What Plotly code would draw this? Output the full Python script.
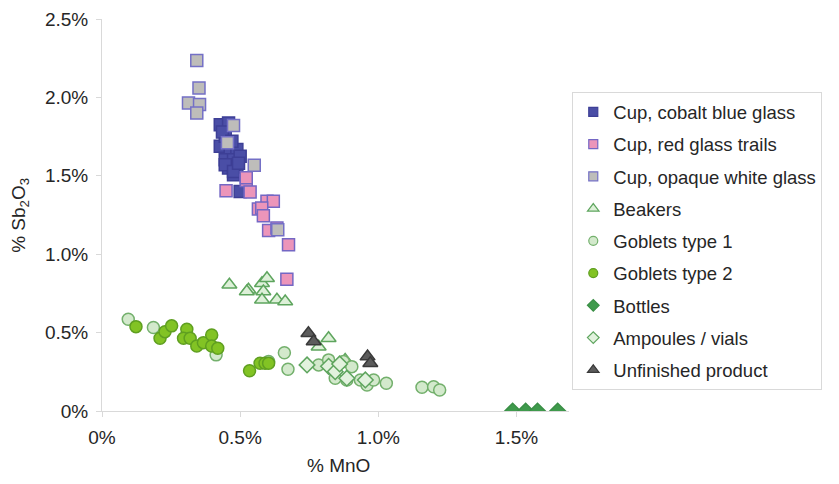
import plotly.graph_objects as go

# % MnO (x) and % Sb2O3 (y) for each group of glass finds
cobalt_x = [0.428, 0.458, 0.428, 0.446, 0.464, 0.488, 0.446, 0.476, 0.500, 0.458, 0.488, 0.476,
            0.446, 0.476, 0.500, 0.436, 0.470, 0.494]
cobalt_y = [1.826, 1.837, 1.688, 1.752, 1.667, 1.667, 1.603, 1.603, 1.624, 1.550, 1.539, 1.507,
            1.571, 1.528, 1.400, 1.780, 1.720, 1.580]

red_x = [0.522, 0.449, 0.536, 0.597, 0.620, 0.566, 0.578, 0.584, 0.603, 0.633, 0.675, 0.669, 0.522]
red_y = [1.470, 1.405, 1.397, 1.337, 1.337, 1.288, 1.294, 1.245, 1.151, 1.167, 1.060, 0.841, 1.488]

white_x = [0.343, 0.351, 0.313, 0.353, 0.343, 0.476, 0.454, 0.551, 0.636]
white_y = [2.235, 2.060, 1.965, 1.954, 1.900, 1.820, 1.710, 1.567, 1.156]

beaker_x = [0.461, 0.530, 0.579, 0.597, 0.584, 0.579, 0.633, 0.663, 0.524, 0.820, 0.784, 0.880]
beaker_y = [0.805, 0.773, 0.815, 0.847, 0.762, 0.709, 0.709, 0.698, 0.762, 0.464, 0.410, 0.326]

goblet1_x = [0.095, 0.186, 0.413, 0.660, 0.673, 0.603, 0.784, 0.820, 0.838, 0.874, 0.904, 0.844,
             0.886, 0.935, 0.959, 0.983, 1.029, 1.158, 1.200, 1.222]
goblet1_y = [0.585, 0.532, 0.358, 0.372, 0.266, 0.315, 0.294, 0.326, 0.273, 0.315, 0.283, 0.209,
             0.198, 0.198, 0.166, 0.198, 0.177, 0.151, 0.155, 0.134]

goblet2_x = [0.123, 0.210, 0.228, 0.252, 0.307, 0.295, 0.319, 0.343, 0.367, 0.397, 0.397, 0.419,
             0.534, 0.572, 0.590, 0.603]
goblet2_y = [0.538, 0.464, 0.506, 0.543, 0.522, 0.464, 0.464, 0.415, 0.436, 0.485, 0.415, 0.400,
             0.257, 0.304, 0.304, 0.304]

bottle_x = [1.486, 1.533, 1.576, 1.649]
bottle_y = [0.0, 0.0, 0.0, 0.0]

ampoule_x = [0.742, 0.820, 0.844, 0.886, 0.953, 0.860]
ampoule_y = [0.294, 0.285, 0.251, 0.209, 0.198, 0.300]

unfinished_x = [0.747, 0.766, 0.961, 0.971]
unfinished_y = [0.496, 0.443, 0.347, 0.304]

x_ticks = [0, 0.5, 1.0, 1.5]
x_labels = ["0%", "0.5%", "1.0%", "1.5%"]
y_ticks = [0, 0.5, 1.0, 1.5, 2.0, 2.5]
y_labels = ["0%", "0.5%", "1.0%", "1.5%", "2.0%", "2.5%"]

FONT = "Liberation Sans, Arial, sans-serif"
AXIS = "#D9D9D9"
TEXT = "#262626"

series = [
    ("Cup, cobalt blue glass", cobalt_x, cobalt_y, "square", 12, "#4A4EA6", "#3D3F96"),
    ("Cup, red glass trails", red_x, red_y, "square", 12, "#EC95BA", "#7467C4"),
    ("Cup, opaque white glass", white_x, white_y, "square", 12, "#BEBDBA", "#7470C6"),
    ("Beakers", beaker_x, beaker_y, "triangle-up", 13, "#DDF0D8", "#5EA55E"),
    ("Goblets type 1", goblet1_x, goblet1_y, "circle", 12, "#D3E9CC", "#73B06C"),
    ("Goblets type 2", goblet2_x, goblet2_y, "circle", 12, "#82C324", "#5F9F20"),
    ("Bottles", bottle_x, bottle_y, "diamond", 12, "#3F9A4C", "#3A8F46"),
    ("Ampoules / vials", ampoule_x, ampoule_y, "diamond", 12, "#E2F2DE", "#5EA55E"),
    ("Unfinished product", unfinished_x, unfinished_y, "triangle-up", 13, "#5C5C5C", "#3A3A3A"),
]

fig = go.Figure()
for name, xs, ys, sym, size, fill, line in series:
    fig.add_trace(go.Scatter(
        x=xs, y=ys, mode="markers", name=name, legendgroup=name, showlegend=False,
        marker=dict(symbol=sym, size=size, color=fill, line=dict(color=line, width=1.5)),
    ))
# smaller key symbols for the legend
for name, xs, ys, sym, size, fill, line in series:
    fig.add_trace(go.Scatter(
        x=[None], y=[None], mode="markers", name=name, legendgroup=name, showlegend=True,
        marker=dict(symbol=sym, size=size - 3, color=fill, line=dict(color=line, width=1.2)),
    ))

fig.update_layout(
    width=839, height=484,
    margin=dict(l=102, r=270, t=19, b=73, autoexpand=False),
    paper_bgcolor="white", plot_bgcolor="white",
    font=dict(family=FONT, size=19, color=TEXT),
    showlegend=True,
    legend=dict(
        x=1.007, y=0.813, xanchor="left", yanchor="top",
        bgcolor="white", bordercolor="#D9D9D9", borderwidth=1,
        font=dict(family=FONT, size=18.5, color=TEXT),
        tracegroupgap=5.2, itemwidth=30,
    ),
    xaxis=dict(
        range=[0, 1.69], tickvals=x_ticks, ticktext=x_labels, automargin=False,
        showgrid=False, zeroline=False, showline=True, linecolor=AXIS, linewidth=1,
        ticks="outside", ticklen=5, tickcolor=AXIS, ticklabelstandoff=4,
    ),
    yaxis=dict(
        range=[0, 2.5], tickvals=y_ticks, ticktext=y_labels, automargin=False,
        showgrid=False, zeroline=False, showline=True, linecolor=AXIS, linewidth=1,
        ticks="outside", ticklen=5, tickcolor=AXIS, ticklabelstandoff=4,
    ),
    annotations=[
        dict(text="% MnO", xref="paper", yref="paper", x=0.507, y=-0.138,
             xanchor="center", yanchor="middle", showarrow=False,
             font=dict(family=FONT, size=19, color=TEXT)),
        dict(text="% Sb<sub>2</sub>O<sub>3</sub>", xref="paper", yref="paper", x=-0.176, y=0.5,
             xanchor="center", yanchor="middle", textangle=-90, showarrow=False,
             font=dict(family=FONT, size=19, color=TEXT)),
    ],
)

fig.write_html("out.html")
